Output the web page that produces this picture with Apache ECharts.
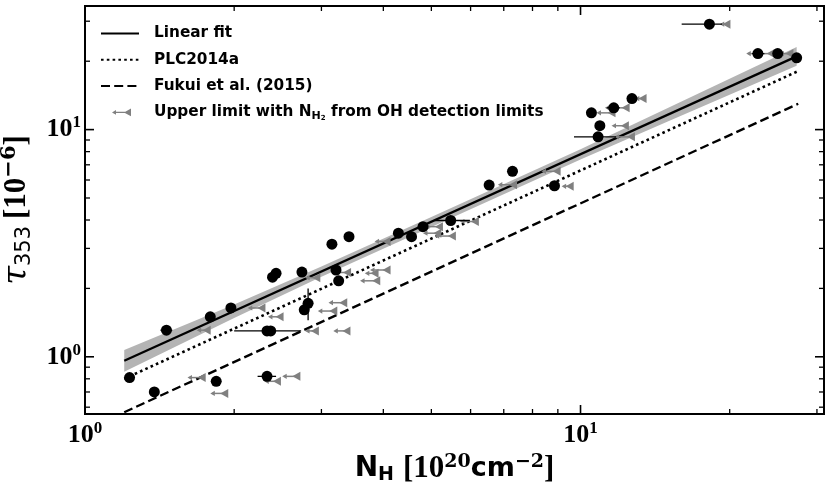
<!DOCTYPE html>
<html><head><meta charset="utf-8">
<script src="https://cdn.jsdelivr.net/npm/echarts@6/dist/echarts.min.js"></script>
<style>html,body{margin:0;padding:0;background:#fff}#c{width:830px;height:493px}</style>
</head><body><div id="c"></div>
<script>
// ---- data: detections (black circles) ----
const detX = [1.23,1.38,1.46,1.79,1.97,2.39,2.43,2.74,3.15,3.41,3.21,3.25,2.82,2.77,2.33,2.37,1.84,2.33,4.29,4.56,4.81,5.47,6.54,7.29,8.86,10.85,10.94,10.52,11.67,12.7,18.2,22.8,25.0,27.3];
const detY = [0.81,0.70,1.31,1.50,1.64,2.24,2.33,2.36,3.13,3.38,2.41,2.16,1.72,1.61,1.30,1.30,0.78,0.82,3.50,3.38,3.74,3.98,5.70,6.55,5.66,9.29,10.4,11.85,12.47,13.7,29.1,21.6,21.6,20.7];
const detXErr = [null,null,[1.42,1.50],null,null,null,null,null,null,null,null,null,null,null,[2.0,2.73],null,null,[2.23,2.43],null,null,null,[5.08,5.98],null,null,null,[9.7,11.8],null,null,[11.3,12.0],null,[16.0,19.3],[22.2,23.5],null,null];
const detYErr = [null,null,[1.25,1.38],null,null,null,null,null,null,null,null,null,[1.45,2.0],null,null,null,null,null,null,null,null,null,null,null,null,null,null,null,null,null,null,null,null,null];
// ---- data: upper limits (grey triangles) ----
const ulX = [1.72,1.91,1.76,2.27,2.47,2.44,2.67,2.91,3.37,3.17,3.32,2.93,3.38,3.84,4.06,3.87,4.06,5.18,5.14,5.50,6.12,7.31,8.95,9.51,12.64,12.29,11.55,12.33,13.34,19.7,24.2,26.4];
const ulY = [0.81,0.69,1.31,1.64,1.50,0.78,0.82,1.30,1.30,1.59,1.73,2.23,2.35,2.33,2.41,2.16,3.22,3.74,3.50,3.40,3.94,5.72,6.55,5.63,9.29,10.4,11.85,12.47,13.7,29.1,21.6,21.6];
const ulXLeft = [1.61,1.79,1.68,2.13,2.34,2.30,2.50,2.78,3.17,2.95,3.10,2.78,3.15,3.67,3.76,3.59,3.84,4.85,4.81,5.08,5.71,6.81,8.34,9.16,11.7,11.55,10.77,11.2,12.87,19.1,21.6,25.2];
// ---- data: lines ----
const fitX = [1.2, 27.3];
const fitY = [0.96, 21.0];
const bandX = [1.2, 2, 3, 5, 10, 15, 27.3];
const bandUp = [1.07, 1.70, 2.50, 4.12, 8.20, 12.45, 23.1];
const bandLo = [0.86, 1.48, 2.25, 3.73, 7.38, 10.85, 19.1];
const plcX = [1.2, 27.5];
const plcY = [0.80, 18.1];
const fukuiX = [1.2, 27.5];
const fukuiY = [0.57, 13.0];
// ---- axes ----
const xMin = 1, xMax = 31, yMin = 0.56, yMax = 35;
const xMajorTicks = [1, 10];
const xMinorTicks = [2,3,4,5,6,7,8,9,20,30];
const yMajorTicks = [1, 10];
const yMinorTicks = [0.6,0.7,0.8,0.9,2,3,4,5,6,7,8,9,20,30];
const legendNames = ['Linear fit', 'PLC2014a', 'Fukui et al. (2015)', 'Upper limit with NH2 from OH detection limits'];

const chart = echarts.init(document.getElementById('c'), null, {renderer: 'canvas'});
const SERIF = '"Liberation Serif", "DejaVu Serif", serif';
const DSERIF = '"DejaVu Serif", serif';
const SANS = '"DejaVu Sans", sans-serif';
const tickRich = {
  b: {fontFamily: SERIF, fontWeight: 'bold', fontSize: 26, color: '#000', lineHeight: 30},
  s: {fontFamily: SERIF, fontWeight: 'bold', fontSize: 17, color: '#000', verticalAlign: 'top', lineHeight: 17}
};
function powLabel(v) {
  const l = Math.log10(v);
  if (Math.abs(l - Math.round(l)) < 1e-6) return '{b|10}{s|' + Math.round(l) + '}';
  return '';
}
const hideSym = {color: 'rgba(0,0,0,0)', borderWidth: 0, opacity: 0};

const option = {
  backgroundColor: '#fff',
  animation: false,
  grid: {left: 85, right: 6, top: 6, bottom: 79, show: true, borderColor: '#000', borderWidth: 2, containLabel: false, outerBoundsMode: 'none'},
  legend: {
    orient: 'vertical', left: 100, top: 26, padding: 0, itemWidth: 38, itemHeight: 14, itemGap: 11.3,
    selectedMode: false,
    data: [
      {name: legendNames[0], itemStyle: hideSym}, {name: legendNames[1], itemStyle: hideSym}, {name: legendNames[2], itemStyle: hideSym},
      {name: legendNames[3], icon: 'path://M0,0h0.01v0.01h-0.01z M38,14h-0.01v-0.01h0.01z M11,7 L15,4.6 L15,9.4 Z M15,6.4 L25,6.4 L25,7.6 L15,7.6 Z M23,7 L30,3.2 L30,10.8 Z'}
    ],
    formatter: function (name) {
      if (name === legendNames[3]) return '{t|Upper limit with N}{s1|H}{s2|2}{t| from OH detection limits}';
      return '{t|' + name + '}';
    },
    textStyle: {
      color: '#000', fontFamily: SANS, fontWeight: 'bold', fontSize: 15, padding: [0, 0, 0, 10],
      rich: {
        t: {fontFamily: SANS, fontWeight: 'bold', fontSize: 15.3, color: '#000', lineHeight: 18},
        s1: {fontFamily: SANS, fontWeight: 'bold', fontSize: 11, color: '#000', verticalAlign: 'bottom', lineHeight: 12},
        s2: {fontFamily: SANS, fontWeight: 'bold', fontSize: 7, color: '#000', verticalAlign: 'bottom', lineHeight: 8}
      }
    }
  },
  xAxis: {
    type: 'log', logBase: 10, min: xMin, max: xMax,
    axisLine: {show: true, lineStyle: {color: '#000', width: 2}},
    axisTick: {show: false}, splitLine: {show: false}, minorTick: {show: false},
    axisLabel: {formatter: powLabel, rich: tickRich, margin: 6, showMinLabel: true, showMaxLabel: false, hideOverlap: false},
    name: '{n|N}{h|H}{sp| }{br|[10}{sup|20}{cm|cm}{sup|−2}{br|]}',
    nameLocation: 'middle', nameGap: 34,
    nameTextStyle: {
      rich: {
        n: {fontFamily: SANS, fontWeight: 'bold', fontSize: 28, color: '#000', lineHeight: 32},
        h: {fontFamily: SANS, fontWeight: 'bold', fontSize: 19, color: '#000', verticalAlign: 'bottom', lineHeight: 24},
        sp: {fontSize: 22, lineHeight: 32, width: 9},
        br: {fontFamily: SERIF, fontWeight: 'bold', fontSize: 31, color: '#000', lineHeight: 32},
        cm: {fontFamily: SANS, fontWeight: 'bold', fontSize: 27, color: '#000', lineHeight: 32},
        sup: {fontFamily: DSERIF, fontWeight: 'bold', fontSize: 19, color: '#000', verticalAlign: 'top', lineHeight: 19}
      }
    }
  },
  yAxis: {
    type: 'log', logBase: 10, min: yMin, max: yMax,
    axisLine: {show: true, lineStyle: {color: '#000', width: 2}},
    axisTick: {show: false}, splitLine: {show: false}, minorTick: {show: false},
    axisLabel: {formatter: powLabel, rich: tickRich, margin: 4, showMinLabel: false, showMaxLabel: false, hideOverlap: false},
    name: '{tau|τ}{sub|353}{sp| }{br|[10}{sup|−6}{br|]}',
    nameLocation: 'middle', nameGap: 50, nameRotate: 90,
    nameTextStyle: {
      rich: {
        tau: {fontFamily: DSERIF, fontStyle: 'italic', fontSize: 34, color: '#000', lineHeight: 36},
        sub: {fontFamily: SANS, fontSize: 21, color: '#000', verticalAlign: 'bottom', lineHeight: 25},
        sp: {fontSize: 12, lineHeight: 36, width: 7},
        br: {fontFamily: SERIF, fontWeight: 'bold', fontSize: 31, color: '#000', lineHeight: 36},
        sup: {fontFamily: DSERIF, fontWeight: 'bold', fontSize: 21, color: '#000', verticalAlign: 'top', lineHeight: 20}
      }
    }
  },
  series: [
    {
      type: 'custom', name: 'band', silent: true, z: 1, data: [[1, 1]],
      renderItem: function (params, api) {
        const pts = [];
        for (let i = 0; i < bandX.length; i++) pts.push(api.coord([bandX[i], bandUp[i]]));
        for (let i = bandX.length - 1; i >= 0; i--) pts.push(api.coord([bandX[i], bandLo[i]]));
        return {type: 'polygon', shape: {points: pts}, style: {fill: '#b4b4b4'}};
      }
    },
    {
      type: 'line', name: legendNames[2], z: 2, symbol: 'none', silent: true,
      data: fukuiX.map((x, i) => [x, fukuiY[i]]),
      lineStyle: {color: '#000', width: 2.4, type: [9, 4.2]}, itemStyle: {color: '#000'}
    },
    {
      type: 'line', name: legendNames[1], z: 2, symbol: 'none', silent: true,
      data: plcX.map((x, i) => [x, plcY[i]]),
      lineStyle: {color: '#000', width: 2.6, type: [2.6, 3.2]}, itemStyle: {color: '#000'}
    },
    {
      type: 'line', name: legendNames[0], z: 3, symbol: 'none', silent: true,
      data: fitX.map((x, i) => [x, fitY[i]]),
      lineStyle: {color: '#000', width: 2.3}, itemStyle: {color: '#000'}
    },
    {
      type: 'custom', name: 'ularrows', silent: true, z: 4,
      data: ulX.map((x, i) => [x, ulY[i]]),
      renderItem: function (params, api) {
        const i = params.dataIndex;
        const a = api.coord([ulXLeft[i], ulY[i]]);
        const b = api.coord([ulX[i], ulY[i]]);
        return {type: 'group', children: [
          {type: 'line', shape: {x1: a[0] + 2, y1: a[1], x2: b[0], y2: b[1]}, style: {stroke: '#808080', lineWidth: 1.5}},
          {type: 'polygon', shape: {points: [[a[0], a[1]], [a[0] + 4.5, a[1] - 2.6], [a[0] + 4.5, a[1] + 2.6]]}, style: {fill: '#808080'}}
        ]};
      }
    },
    {
      type: 'scatter', name: legendNames[3], z: 5, silent: true,
      symbol: 'triangle', symbolRotate: 90, symbolSize: [9, 8],
      itemStyle: {color: '#808080', opacity: 1},
      data: ulX.map((x, i) => [x, ulY[i]])
    },
    {
      type: 'custom', name: 'errbars', silent: true, z: 6,
      data: detX.map((x, i) => [x, detY[i]]),
      renderItem: function (params, api) {
        const i = params.dataIndex;
        const ch = [];
        if (detXErr[i]) {
          const a = api.coord([detXErr[i][0], detY[i]]), b = api.coord([detXErr[i][1], detY[i]]);
          ch.push({type: 'line', shape: {x1: a[0], y1: a[1], x2: b[0], y2: b[1]}, style: {stroke: '#000', lineWidth: 1.3}});
        }
        if (detYErr[i]) {
          const a = api.coord([detX[i], detYErr[i][0]]), b = api.coord([detX[i], detYErr[i][1]]);
          ch.push({type: 'line', shape: {x1: a[0], y1: a[1], x2: b[0], y2: b[1]}, style: {stroke: '#000', lineWidth: 1.3}});
        }
        return {type: 'group', children: ch};
      }
    },
    {
      type: 'scatter', name: 'detections', z: 7, silent: true,
      symbol: 'circle', symbolSize: 11, itemStyle: {color: '#000', opacity: 1},
      data: detX.map((x, i) => [x, detY[i]])
    },
    {
      type: 'custom', name: 'ticks', silent: true, z: 10, data: [[1, 1]],
      renderItem: function (params, api) {
        const cs = params.coordSys;
        const x0 = cs.x, x1 = cs.x + cs.width, y0 = cs.y, y1 = cs.y + cs.height;
        const ch = [];
        const add = (a, b, c, d, w) => ch.push({type: 'line', shape: {x1: a, y1: b, x2: c, y2: d}, style: {stroke: '#000', lineWidth: w}});
        xMajorTicks.forEach(v => { const p = api.coord([v, 1])[0]; add(p, y1, p, y1 - 9, 1.6); add(p, y0, p, y0 + 9, 1.6); });
        xMinorTicks.forEach(v => { const p = api.coord([v, 1])[0]; add(p, y1, p, y1 - 5, 1.3); add(p, y0, p, y0 + 5, 1.3); });
        yMajorTicks.forEach(v => { const p = api.coord([2, v])[1]; add(x0, p, x0 + 9, p, 1.6); add(x1, p, x1 - 9, p, 1.6); });
        yMinorTicks.forEach(v => { const p = api.coord([2, v])[1]; add(x0, p, x0 + 5, p, 1.3); add(x1, p, x1 - 5, p, 1.3); });
        return {type: 'group', children: ch};
      }
    }
  ]
};
chart.setOption(option);
</script></body></html>
